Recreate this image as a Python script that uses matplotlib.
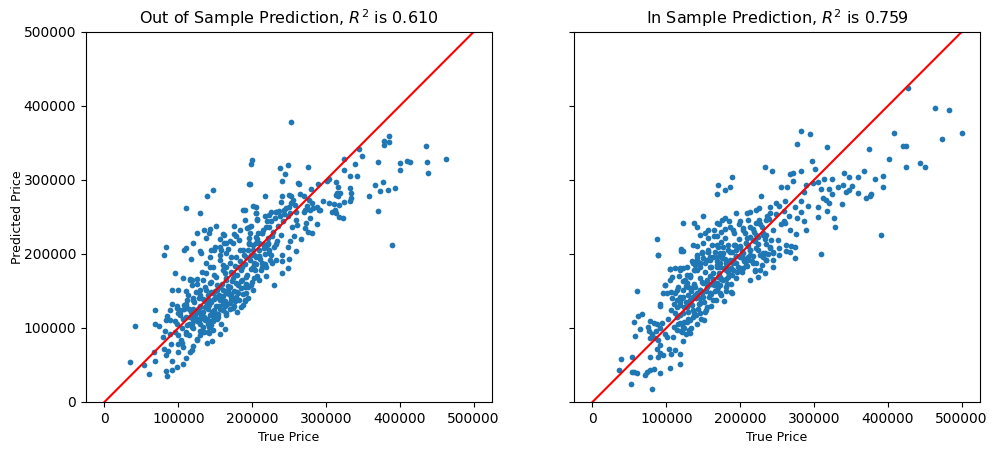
import matplotlib
matplotlib.use("Agg")
import matplotlib.pyplot as plt
import numpy as np

# ---- data (values in thousands of dollars) ----
out_true_k = [
    253,385,379,386,378,436,463,437,438,401,410,414,401,371,390,370,394,384,377,373,366,358,349,345,339,342,332,325,324,
    200,198,196,249,238,244,240,276,262,264,280,289,301,304,313,317,315,319,313,316,333,334,334,333,325,318,311,304,296,292,288,283,
    217,250,253,256,253,250,240,239,265,270,277,281,274,272,312,313,318,323,308,259,270,279,290,205,218,225,232,237,243,248,259,261,254,
    278,273,272,276,281,288,266,257,251,248,241,250,241,248,241,260,230,219,
    205,196,207,214,223,227,234,223,209,203,214,227,221,230,205,
    199,190,185,185,
    197,147,139,111,129,201,190,205,207,151,143,135,125,141,137,160,157,198,193,197,176,178,120,110,108,129,131,83,81,144,149,158,168,162,165,117,96,106,116,118,91,100,111,
    188,223,232,243,
    190,181,172,160,149,143,136,147,165,174,185,116,125,129,120,111,102,89,84,98,116,
    142.5,151.5,160.4,169.4,178.3,187.3,196.3,205.2,214.2,156,164.9,147,138,133.5,142.5,191.8,200.7,209.7,182.8,173.9,164.9,156,147,138,129,124.6,120.1,
    138,151.5,169.4,178.3,191.8,200.7,182.8,173.9,164.9,156,205.2,218.7,223.1,232.1,218.7,209.7,200.7,191.8,178.3,164.9,169.4,160.4,153.7,
    41,35,61,53,69,67,69,68,74,82,80,89,92,98,103,85,89,81,86,84,90,100,100,107,92,98,91,83,85,107,111,120,119,116,125,129,139,146,142,147,160,163,177,156,161,172,
    100,110,120,130,105,115,125,135,140,145,150,95,100,110,120,130,140,150,155,120,110,130,140,115,125,135,145,105,95,118,128,138,108,98,
    103,108,112,117,121,124,127,131,133,136,139,142,144,146,148,151,153,155,157,159,161,163,165,167,169,171,173,175,177,179,
    181,183,185,187,189,191,193,195,197,199,201,203,205,207,209,211,213,215,217,219,221,225,228,231,235,238,242,246,252,258,
    113,119,126,132,137,143,150,156,162,170,176,184,190,196,
    129,134,140,145,152,158,164,170,176,182,188,194,200,206,212,218,224,118,110,104,
    106,114,122,128,134,141,147,152,158,163,168,174,180,186,192,198,204,210,216,222,
    112,118,124,130,136,142,148,154,160,166,172,178,184,190,196,202,208,214,220,226,
    163,157,150,145,171,179,188,195,233,239,
]
out_pred_k = [
    379,360,353,351,347,346,329,324,309,323,325,324,313,324,212,258,289,287,297,285,293,278,332,342,321,306,305,329,314,
    327,321,295,320,316,308,298,317,296,295,288,295,298,302,297,291,283,283,280,278,289,283,276,272,270,266,268,269,271,260,264,262,
    279,280,278,273,269,264,278,270,281,278,273,269,265,260,260,255,250,248,257,257,257,259,260,255,252,257,257,258,254,251,246,239,237,
    248,242,235,230,228,240,220,224,217,210,198,193,191,181,174,204,158,170,
    264,237,246,228,237,224,217,206,197,188,188,188,215,210,215,
    158,137,163,154,
    294,286,278,262,255,265,259,255,247,238,234,232,229,228,221,227,220,238,235,228,227,224,215,208,206,204,201,209,198,205,206,205,207,215,215,193,174,167,166,165,152,152,150,
    259,253,257,259,
    138,147,142,133,124,118,111,109,120,127,129,165,160,151,138,133,124,124,111,106,115,
    160.4,169.4,178.4,187.4,196.4,205.4,214.4,223.4,232.4,191.9,182.9,182.9,173.9,164.9,182.9,196.4,205.4,214.4,182.9,173.9,164.9,155.9,146.9,137.9,128.9,119.9,110.9,
    151.4,142.4,155.9,160.4,169.4,182.9,218.9,214.4,200.9,209.9,196.4,209.9,200.9,191.9,182.9,164.9,151.4,146.9,137.9,146.9,133.4,124.4,115.4,
    103,54,38,50,56,68,124,105,103,96,88,92,132,127,122,116,111,71,69,64,78,79,68,74,55,47,43,42,35,51,59,76,70,67,84,91,80,82,93,97,124,130,136,138,143,146,
    120,115,125,130,100,105,110,115,125,135,140,110,90,95,100,105,105,120,130,140,130,145,145,90,85,95,110,80,95,118,122,135,125,130,
    118,131,104,122,135,113,126,118,139,128,112,131,148,122,139,130,152,144,126,160,151,137,168,157,146,176,163,150,184,171,
    158,190,178,165,198,186,172,205,192,180,212,199,187,220,206,193,228,214,200,236,222,244,230,249,238,252,244,262,255,266,
    145,158,166,176,188,196,210,199,226,218,238,232,246,222,
    96,102,94,104,112,105,118,126,130,138,146,155,162,170,178,186,192,106,92,84,
    112,126,119,141,121,138,116,158,140,174,152,167,149,183,160,199,178,197,208,213,
    138,101,148,112,156,102,171,119,185,132,196,142,205,155,214,168,229,182,245,199,
    98,92,150,162,138,121,131,140,214,226,
]

in_true_k = [
    89,120,60,98,96,106,105,105,119,117,92,92,110,119,67,62,56,64,58,78,83,87,94,75,76,80,78,85,89,92,87,92,89,78,103,112,107,96,118,119,105,92,83,78,74,71,60,56,54,38,36,54,52,80,
    123,121,131,151,141,132,178,188,189,204,217,220,211,148,159,168,170,161,155,184,190,
    114.1,123,127.5,132,136.5,141,145.5,150,154.5,163.5,172.4,181.4,190.4,199.4,118.6,127.5,136.5,145.5,154.5,163.5,172.4,181.4,145.5,136.5,123,132,114.1,109.6,100.6,
    141,132,127.5,123,118.6,114.1,145.5,154.5,163.5,172.4,159,168,177,150,136.5,127.5,141,
    282,294,277,318,234,243,189,170,180,186,168,298,301,340,339,343,333,267,271,283,271,256,264,289,299,306,314,324,310,320,324,312,316,320,338,305,317,305,327,328,310,274,
    228,286,283,292,283,274,266,277,286,289,276,267,261,259,261,252,248,241,240,236,235,226,222,214,209,195,185,180,175,169,190,200,204,213,222,226,
    150,141,138,157,164,152,146,141,136,149,157,170,177,200,208,217,224,235,242,251,240,252,230,217,211,195,186,173,159,146,139,253,262,269,274,267,
    159,168,177,186,195,203.9,212.9,221.9,230.9,181.5,190.5,199.5,208.4,221.9,235.4,244.4,174.8,165.8,
    428,464,483,500,474,409,374,421,424,401,424,444,451,368,347,359,382,394,352,348,360,377,376,371,393,391,
    245,238,233,231,227,262,
    123,87,120,122,89,
    105.1,111.9,118.6,123.1,107.4,98.4,100.7,111.9,116.4,125.3,132.1,138.8,145.6,152.3,136.6,141.1,147.8,156.8,129.8,123.1,132.1,138.8,145.6,154.5,163.5,172.5,181.5,188.2,159,168,
    168,174.7,183.7,192.7,199.4,208.4,212.9,221.9,230.9,239.8,244.3,226.4,235.4,219.6,212.9,224.1,233.1,244.3,
    102,106,110,114,118,121,124,127,130,133,135,138,140,143,146,148,151,153,156,158,161,163,166,168,171,173,176,178,181,183,
    186,189,191,194,197,199,202,205,207,210,214,217,220,224,227,231,235,239,244,249,255,260,
    108,115,122,128,135,142,150,157,165,172,180,
    120,126,133,140,147,154,160,167,174,181,188,195,202,209,216,98,92,86,
    112,118,124,129,134,139,144,149,154,159,164,169,174,179,184,189,194,199,204,209,214,219,224,229,234,
    126,132,138,144,150,156,162,168,174,180,186,192,198,204,210,
    116,124,130,137,146,152,161,170,182,196,
]
in_pred_k = [
    198,204,150,158,147,149,165,180,181,170,133,130,133,131,119,116,108,98,89,110,107,106,107,102,96,92,86,87,84,77,72,66,61,61,71,70,65,64,65,51,46,39,45,43,41,37,39,40,40,58,43,61,24,17,
    82,95,97,111,106,111,137,149,147,181,188,177,196,201,196,185,169,160,156,169,178,
    115.4,119.9,128.9,137.9,142.4,146.9,151.4,160.4,164.9,173.9,182.9,187.4,191.9,196.4,106.4,108.7,115.4,119.9,128.9,137.9,146.9,155.9,133.4,124.4,101.9,92.9,97.4,88.4,88.4,
    178.4,169.4,160.4,151.4,142.4,137.9,187.4,191.9,196.4,200.9,146.9,160.4,164.9,142.4,155.9,182.9,196.4,
    366,362,348,345,317,312,304,293,287,290,281,325,315,310,293,284,291,308,310,312,298,290,290,293,296,297,302,302,288,288,281,275,273,269,268,263,258,250,248,237,200,195,
    279,284,271,265,257,263,251,248,244,233,227,233,242,245,272,265,269,263,255,251,246,262,260,257,256,256,245,234,246,242,233,244,235,237,242,246,
    251,237,242,233,224,228,226,211,212,203,203,210,210,211,215,219,223,226,219,219,208,199,185,197,192,197,192,188,192,188,185,208,212,211,209,203,
    183,196.5,201,203.3,205.5,201,205.5,207.8,201,183,187.5,180.8,185.3,187.5,192,192,194.3,203.3,
    424,397,394,363,355,364,342,346,346,328,317,323,317,312,304,304,302,305,292,286,282,281,279,275,290,225,
    202,200,202,196,178,204,
    242,220,207,204,198,
    179.4,180.8,178.5,180.8,169.5,158.3,147,147,156,165,171.8,178.5,183,187.5,187.5,192,201,203.3,156,142.5,133.5,144.8,151.5,160.5,165,169.5,178.5,180.8,147,151.5,
    212.3,216.8,212.3,212.3,210,214.5,223.5,225.8,228,210,203.3,198.8,192,178.5,165,169.5,174,183,
    112,124,102,128,118,140,108,135,122,150,131,160,140,125,168,147,135,175,158,142,182,166,150,190,174,158,198,181,166,205,
    189,172,212,197,182,220,204,190,228,211,198,234,218,206,240,226,214,247,233,254,240,258,
    140,152,163,171,190,199,215,222,232,240,248,
    96,92,100,118,112,124,130,138,144,150,160,168,176,184,190,92,100,96,
    120,135,128,145,138,155,132,162,150,170,158,182,166,193,176,203,188,210,195,222,205,230,214,236,220,
    157,170,178,186,194,205,212,224,230,222,236,228,240,232,246,
    106,100,112,120,140,122,146,155,160,175,
]

titles = ["Out of Sample Prediction, $R^2$ is 0.610", "In Sample Prediction, $R^2$ is 0.759"]
yticks = [0, 100000, 200000, 300000, 400000, 500000]
line_ends = [0, 500000]

fig = plt.figure(figsize=(9.94, 4.53), dpi=100)
ax1 = fig.add_axes([0.0865, 0.1126, 0.4085, 0.8168])
ax2 = fig.add_axes([0.5775, 0.1126, 0.4085, 0.8168], sharey=ax1)

for ax, xt, yp, title in [(ax1, out_true_k, out_pred_k, titles[0]),
                          (ax2, in_true_k, in_pred_k, titles[1])]:
    x = np.array(xt) * 1000
    y = np.array(yp) * 1000
    ax.scatter(x, y, s=17, color="#1f77b4", linewidths=0)
    ax.plot(line_ends, line_ends, color="red", linewidth=1.5)
    ax.set_title(title, fontsize=11.5)
    ax.set_xlabel("True Price", fontsize=9)
    ax.set_xticks(yticks)
    ax.set_xticklabels([str(v) for v in yticks], fontsize=10)
    ax.tick_params(labelsize=10)

ax1.set_ylim(0, 500000)
ax1.set_yticks(yticks)
ax1.set_yticklabels([str(v) for v in yticks])
ax1.set_ylabel("Predicted Price", fontsize=9, labelpad=0)
plt.setp(ax2.get_yticklabels(), visible=False)

fig.savefig("out.png", dpi=100)
